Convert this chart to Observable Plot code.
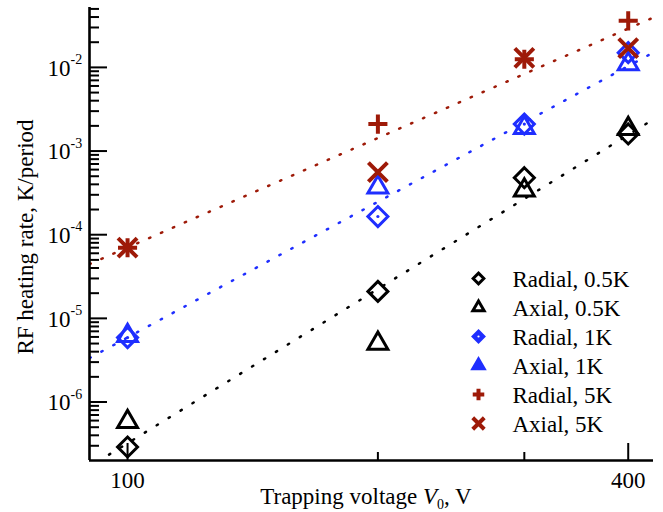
<!DOCTYPE html>
<html><head><meta charset="utf-8">
<script src="https://cdn.jsdelivr.net/npm/d3@7"></script>
<script src="https://cdn.jsdelivr.net/npm/@observablehq/plot@0.6"></script>
<style>body{margin:0;background:#fff} #chart svg{display:block}</style>
</head><body><div id="chart"></div>
<script>
// ---- data ----
const voltages = [100, 200, 300, 400];
const radial05 = [2.9e-7, 2.1e-5, 4.8e-4, 1.6e-3];
const axial05  = [5.8e-7, 5.0e-6, 3.4e-4, 1.85e-3];
const radial1  = [5.9e-6, 1.65e-4, 2.1e-3, 1.5e-2];
const axial1   = [6.2e-6, 3.7e-4, 1.9e-3, 1.1e-2];
const radial5  = [7.0e-5, 2.1e-3, 1.25e-2, 3.6e-2];
const axial5   = [7.0e-5, 5.6e-4, 1.3e-2, 1.7e-2];
const seriesNames = ["Radial, 0.5K", "Axial, 0.5K", "Radial, 1K", "Axial, 1K", "Radial, 5K", "Axial, 5K"];
const seriesValues = [radial05, axial05, radial1, axial1, radial5, axial5];
// fitted power-law lines (end points)
const fitX05 = [95, 429],  fitY05 = [2.35e-7, 2.4e-3];
const fitX1  = [90, 429],  fitY1  = [3.35e-6, 1.51e-2];
const fitX5  = [90, 429],  fitY5  = [4.45e-5, 3.95e-2];
// axes
const xDomain = [90, 429];
const yDomain = [2.0e-7, 5.2e-2];
const xTickMajor = [100, 400];
const xTickMinor = [200, 300];
const xTickLabels = ["100", "400"];
const yTickMajor = [1e-6, 1e-5, 1e-4, 1e-3, 1e-2];
const yTickBase = ["10", "10", "10", "10", "10"];
const yTickExp = ["-6", "-5", "-4", "-3", "-2"];
const yTitle = "RF heating rate, K/period";

// ---- styles ----
const BLACK = "#000000", BLUE = "#1f2eff", RED = "#9e1a08";
const styles = [
  {symbol: "diamond2",  color: BLACK, r: 9,   sw: 3, lr: 4.8, lfill: "white"},
  {symbol: "triangle2", color: BLACK, r: 9.5, sw: 3, lr: 5.4, lfill: "white"},
  {symbol: "diamond2",  color: BLUE,  r: 9,   sw: 3, lr: 4.8, lfill: BLUE},
  {symbol: "triangle2", color: BLUE,  r: 9.5, sw: 3, lr: 5.4, lfill: BLUE},
  {symbol: "plus",      color: RED,   r: 6.2, sw: 4, lr: 3.8, lfill: "none"},
  {symbol: "times",     color: RED,   r: 8.7, sw: 4, lr: 5.3, lfill: "none"}
];
const fits = [
  {xs: fitX05, ys: fitY05, color: BLACK, dash: "1.4,12.6"},
  {xs: fitX1,  ys: fitY1,  color: BLUE,  dash: "1.4,12.1"},
  {xs: fitX5,  ys: fitY5,  color: RED,   dash: "1.4,11.6"}
];

const W = 663, H = 512, ML = 89, MR = 10, MT = 7, MB = 52;
const PW = W - ML - MR, PH = H - MT - MB;
const FONT = "'Liberation Serif', 'Times New Roman', serif";

const yMinor = [];
for (let e = -7; e <= -2; e++) for (let m = 2; m <= 9; m++) {
  const v = m * Math.pow(10, e);
  if (v > yDomain[0] * 1.001 && v <= yDomain[1]) yMinor.push(v);
}

const marks = [];
// fit lines
for (const f of fits) {
  marks.push(Plot.line(f.xs.map((x, i) => ({x, y: f.ys[i]})), {
    x: "x", y: "y", stroke: f.color, strokeWidth: 2.5, strokeDasharray: f.dash,
    strokeLinecap: "round", clip: true
  }));
}
// axis lines and ticks
marks.push(Plot.ruleY(yTickMajor, {y: d => d, insetRight: PW - 18, stroke: BLACK, strokeWidth: 2}));
marks.push(Plot.ruleY(yMinor, {y: d => d, insetRight: PW - 10, stroke: BLACK, strokeWidth: 2}));
marks.push(Plot.ruleX(xTickMajor, {x: d => d, insetTop: PH - 17, stroke: BLACK, strokeWidth: 2}));
marks.push(Plot.ruleX(xTickMinor, {x: d => d, insetTop: PH - 8, stroke: BLACK, strokeWidth: 2}));
marks.push(Plot.ruleX([xDomain[0]], {x: d => d, stroke: BLACK, strokeWidth: 2.6}));
marks.push(Plot.ruleY([yDomain[0]], {y: d => d, stroke: BLACK, strokeWidth: 2.6}));
// tick labels
marks.push(Plot.text(yTickMajor, {y: d => d, text: (d, i) => yTickBase[i], frameAnchor: "left",
  dx: -19, dy: 1, textAnchor: "end", lineAnchor: "middle", fontSize: 23, fill: BLACK}));
marks.push(Plot.text(yTickMajor, {y: d => d, text: (d, i) => yTickExp[i], frameAnchor: "left",
  dx: -19, dy: -8, textAnchor: "start", lineAnchor: "middle", fontSize: 14, fill: BLACK}));
marks.push(Plot.text(xTickMajor, {x: d => d, text: (d, i) => xTickLabels[i], frameAnchor: "bottom",
  dy: 20, textAnchor: "middle", lineAnchor: "middle", fontSize: 23, fill: BLACK}));
// y title
marks.push(Plot.text([yTitle], {frameAnchor: "left", dx: -64, dy: 3, rotate: -90, textAnchor: "middle",
  lineAnchor: "middle", fontSize: 23, fill: BLACK}));
// data points
seriesValues.forEach((vals, k) => {
  const s = styles[k];
  const rows = voltages.map((v, i) => ({v, y: vals[i]}));
  marks.push(Plot.dot(rows, {x: "v", y: "y", symbol: s.symbol, r: s.r, stroke: s.color,
    strokeWidth: s.sw, fill: "none", strokeLinejoin: "miter"}));
  if (k === 2) marks.push(Plot.dot(rows, {x: "v", y: "y", r: 1.6, fill: s.color, stroke: "none"}));
});
// legend
seriesNames.forEach((name, k) => {
  const s = styles[k];
  const dy = 271 + 29 * k;
  marks.push(Plot.dot([name], {frameAnchor: "top-left", dx: 389, dy, symbol: s.symbol, r: s.lr,
    stroke: s.color, strokeWidth: s.sw, fill: s.lfill}));
  if (k === 2) marks.push(Plot.dot([name], {frameAnchor: "top-left", dx: 389, dy, r: 1.1, fill: "white", stroke: "none"}));
  marks.push(Plot.text([name], {frameAnchor: "top-left", dx: 423, dy: dy + 1, textAnchor: "start",
    lineAnchor: "middle", fontSize: 23, fill: BLACK}));
});

const chart = Plot.plot({
  width: W, height: H,
  marginLeft: ML, marginRight: MR, marginTop: MT, marginBottom: MB,
  x: {type: "log", domain: xDomain, axis: null},
  y: {type: "log", domain: yDomain, axis: null},
  style: {fontFamily: FONT, background: "white", color: "black"},
  marks
});
document.getElementById("chart").appendChild(chart);

// x title with italic V and subscript 0
const svg = d3.select(chart);
const t = svg.append("text")
  .attr("x", ML + PW / 2 - 5).attr("y", 504)
  .attr("text-anchor", "middle")
  .attr("font-family", FONT)
  .attr("font-size", 23).attr("fill", "black");
t.append("tspan").text("Trapping voltage ");
t.append("tspan").attr("font-style", "italic").text("V");
t.append("tspan").attr("font-size", 14).attr("dy", 5).text("0");
t.append("tspan").attr("dy", -5).text(", V");
</script>
</body></html>
